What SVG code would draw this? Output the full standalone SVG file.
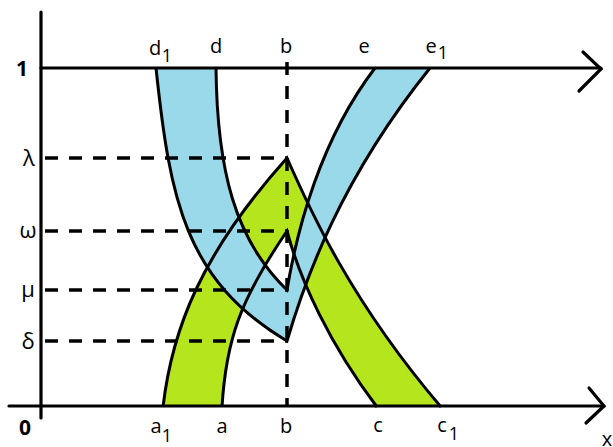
<svg xmlns="http://www.w3.org/2000/svg" width="613" height="447" viewBox="0 0 613 447">
<style>
.ax{stroke:#000;stroke-width:3.2;fill:none;stroke-linecap:round}
.edge{stroke:#000;stroke-width:3;fill:none;stroke-linejoin:miter}
.dash{stroke:#000;stroke-width:3.5;fill:none;stroke-dasharray:13 11}
.lbl{font-family:"Open Sans","Liberation Sans",sans-serif;font-size:20px;fill:#000;text-anchor:middle}
.gr{font-family:"Open Sans","Liberation Sans",sans-serif;font-size:22px;fill:#000;text-anchor:middle}
.sub{font-family:"Open Sans","Liberation Sans",sans-serif;font-size:18px;fill:#000;text-anchor:middle}
.big{font-family:"Open Sans","Liberation Sans",sans-serif;font-size:21px;font-weight:bold;fill:#000;text-anchor:middle}
</style>
<rect width="613" height="447" fill="#fff"/>
<g id="fills">
<path id="green-band" d="M163,407 C172,330 200,255 287,158 C310,210 350,300 441,407 L377,407 C330,345 300,280 287,231 C240,300 226,340 222,407 Z" fill="#b5e61d"/>
<path id="blue-band" d="M156,68 C170,200 185,280 287,341 C305,280 340,180 430,68 L375,68 C320,140 297,230 287,290 C235,240 217,170 216,68 Z" fill="#99d9ea"/>
</g>
<g id="edges">
<path class="edge" d="M163,407 C172,330 200,255 287,158 C310,210 350,300 441,407"/>
<path class="edge" d="M222,407 C226,340 240,300 287,231 C300,280 330,345 377,407"/>
<path class="edge" d="M156,68 C170,200 185,280 287,341 C305,280 340,180 430,68"/>
<path class="edge" d="M216,68 C217,170 235,240 287,290 C297,230 320,140 375,68"/>
</g>
<g id="guides">
<line class="dash" x1="45" y1="158" x2="287" y2="158"/>
<line class="dash" x1="45" y1="231" x2="287" y2="231"/>
<line class="dash" x1="45" y1="290" x2="287" y2="290"/>
<line class="dash" x1="45" y1="341" x2="287" y2="341"/>
<line class="dash" x1="287" y1="62" x2="287" y2="407"/>
</g>
<g id="axes">
<line class="ax" x1="41" y1="12" x2="41" y2="418"/>
<line class="ax" x1="9" y1="406" x2="604" y2="406"/>
<polyline class="ax" points="589,388 604,406 586,423"/>
<line class="ax" x1="41" y1="68" x2="601" y2="68"/>
<polyline class="ax" points="583,52 601,69 579,91"/>
</g>
<g id="labels">
<text class="big" x="22" y="76">1</text>
<text class="big" x="25" y="435">0</text>
<text class="gr" x="29" y="166">λ</text>
<text class="gr" x="28" y="238">ω</text>
<text class="gr" x="28" y="297">μ</text>
<text class="gr" x="28" y="349">δ</text>
<text class="lbl" x="155" y="55">d</text>
<text class="sub" x="167" y="62">1</text>
<text class="lbl" x="216" y="53">d</text>
<text class="lbl" x="286" y="53">b</text>
<text class="lbl" x="364" y="53">e</text>
<text class="lbl" x="431" y="53">e</text>
<text class="sub" x="443" y="59">1</text>
<text class="lbl" x="156" y="433">a</text>
<text class="sub" x="167" y="442">1</text>
<text class="lbl" x="222" y="433">a</text>
<text class="lbl" x="286" y="433">b</text>
<text class="lbl" x="378" y="432">c</text>
<text class="lbl" x="442" y="432">c</text>
<text class="sub" x="454" y="440">1</text>
<text class="lbl" x="607" y="446">x</text>
</g>
</svg>
